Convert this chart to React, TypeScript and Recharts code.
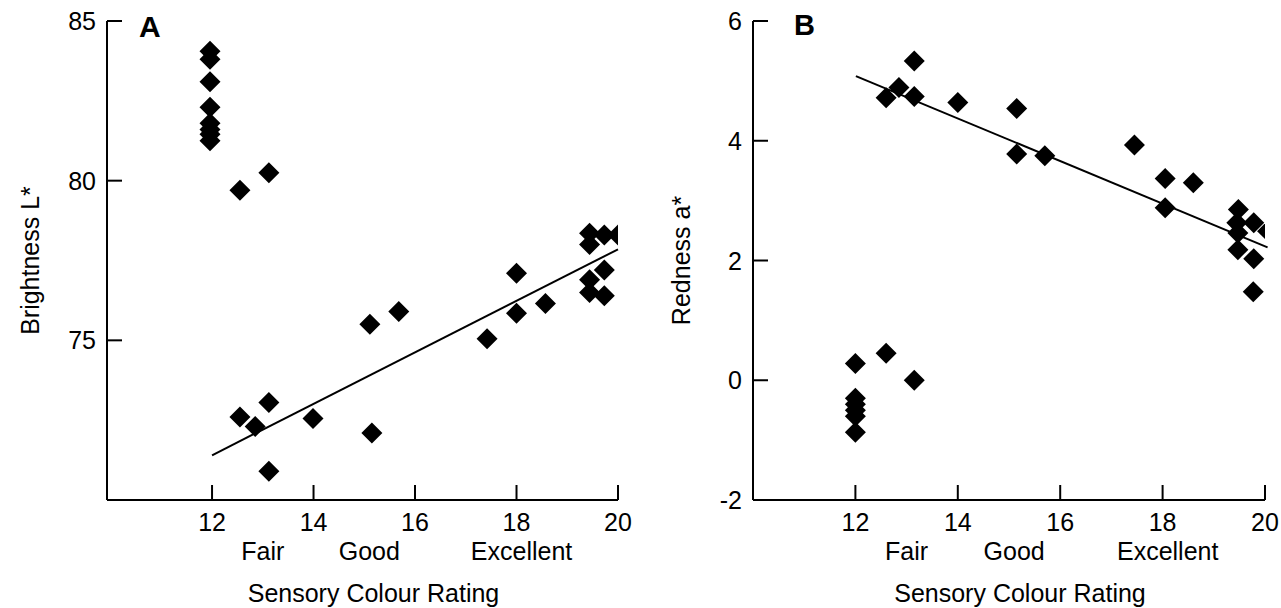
import { ScatterChart, Scatter, XAxis, YAxis, ReferenceLine, Label } from 'recharts';

const FONT = "'Liberation Sans', Arial, Helvetica, sans-serif";
const TICK = 15;
const PLOT_H = 479;

// Panel A: brightness vs sensory rating
const ratingA = [11.96, 11.96, 11.96, 11.96, 11.96, 11.96, 11.96, 11.96, 12.55, 13.12, 12.55, 12.85, 13.12, 13.99, 13.12, 15.11, 15.15, 15.68, 17.42, 18.0, 18.0, 18.57, 19.44, 19.44, 19.73, 20.0, 19.73, 19.44, 19.44, 19.73];
const brightness = [84.05, 83.8, 83.1, 82.3, 81.8, 81.6, 81.45, 81.25, 79.7, 80.25, 72.6, 72.3, 73.05, 72.55, 70.9, 75.5, 72.1, 75.9, 75.05, 77.1, 75.85, 76.15, 78.35, 78.0, 78.3, 78.3, 77.2, 76.9, 76.5, 76.4];
const lineA = [{ x: 12.0, y: 71.4 }, { x: 20, y: 77.85 }];
const xDomainA: [number, number] = [9.93, 20];
const yTicksA = [75, 80, 85];

// Panel B: redness vs sensory rating
const ratingB = [12, 12, 12, 12, 12, 12, 12.6, 13.15, 12.6, 12.85, 13.15, 13.15, 14.0, 15.15, 15.15, 15.7, 17.45, 18.05, 18.05, 18.6, 19.48, 19.45, 19.47, 19.78, 20.05, 19.47, 19.78, 19.77];
const redness = [0.28, -0.3, -0.4, -0.5, -0.6, -0.87, 0.45, 0.0, 4.72, 4.89, 5.33, 4.74, 4.64, 4.54, 3.78, 3.75, 3.93, 3.37, 2.88, 3.3, 2.85, 2.63, 2.46, 2.63, 2.49, 2.18, 2.03, 1.48];
const lineB = [{ x: 12.01, y: 5.08 }, { x: 20.05, y: 2.22 }];
const xDomainB: [number, number] = [10, 20];
const yTicksB = [-2, 0, 2, 4, 6];

const xTicks = [12, 14, 16, 18, 20];
const qualityNames = ['Fair', 'Good', 'Excellent'];
const qualityAt = [13, 15.1, 18.1];

const toPoints = (xs: number[], ys: number[]) => xs.map((x, i) => ({ x, y: ys[i] }));

const textStyle = { fontFamily: FONT, fontSize: 25, fill: '#000' };
const axisStroke = { stroke: '#000', strokeWidth: 2 };

function Diamond(props: any) {
  const { cx, cy } = props;
  if (cx == null || cy == null) return null;
  const r = 10.5;
  return <polygon points={`${cx},${cy - r} ${cx + r},${cy} ${cx},${cy + r} ${cx - r},${cy}`} fill="#000" />;
}

function XTick({ x, y, payload }: any) {
  return (
    <text x={x} y={y + 22} textAnchor="middle" dominantBaseline="central" {...textStyle}>
      {payload.value}
    </text>
  );
}

function YTick({ x, y, payload }: any) {
  return (
    <text x={x - 11} y={y} textAnchor="end" dominantBaseline="central" {...textStyle}>
      {payload.value}
    </text>
  );
}

function QualityTick({ x, y, payload }: any) {
  const i = qualityAt.indexOf(payload.value);
  return (
    <text x={x} y={y + 11} textAnchor="middle" dominantBaseline="central" {...textStyle}>
      {qualityNames[i]}
    </text>
  );
}

interface PanelProps {
  points: { x: number; y: number }[];
  line: { x: number; y: number }[];
  xDomain: [number, number];
  yDomain: [number, number];
  yTicks: number[];
  yTitle: string;
  titleX: number;
  left: number;
  width: number;
  yAxisWidth: number;
  rightMargin: number;
}

function Panel({ points, line, xDomain, yDomain, yTicks, yTitle, titleX, left, width, yAxisWidth, rightMargin }: PanelProps) {
  // inward tick marks drawn as short segments off each axis
  const plotW = width - yAxisWidth - rightMargin;
  const dy = (TICK * (yDomain[1] - yDomain[0])) / PLOT_H;
  const dx = (TICK * (xDomain[1] - xDomain[0])) / plotW;

  return (
    <div style={{ position: 'absolute', left, top: 0 }}>
      <ScatterChart width={width} height={608} margin={{ top: 21, right: rightMargin, bottom: 0, left: 0 }}>
        <XAxis
          dataKey="x"
          type="number"
          domain={xDomain}
          ticks={xTicks}
          interval={0}
          tickSize={0}
          tickMargin={0}
          height={40}
          tick={XTick}
          tickLine={false}
          axisLine={axisStroke}
          allowDataOverflow
        />
        <XAxis
          xAxisId="q"
          dataKey="x"
          type="number"
          domain={xDomain}
          ticks={qualityAt}
          interval={0}
          tickSize={0}
          tickMargin={0}
          height={68}
          tick={QualityTick}
          tickLine={false}
          axisLine={false}
          allowDataOverflow
        >
          <Label
            content={(p: any) => (
              <text x={p.viewBox.x + p.viewBox.width / 2 + 11} y={593} textAnchor="middle" dominantBaseline="central" {...textStyle}>
                Sensory Colour Rating
              </text>
            )}
          />
        </XAxis>
        <YAxis
          dataKey="y"
          type="number"
          domain={yDomain}
          ticks={yTicks}
          interval={0}
          width={yAxisWidth}
          tickSize={0}
          tickMargin={0}
          tick={YTick}
          tickLine={false}
          axisLine={axisStroke}
          allowDataOverflow
        >
          <Label
            content={(p: any) => {
              const cy = p.viewBox.y + p.viewBox.height / 2;
              return (
                <text x={titleX} y={cy} textAnchor="middle" dominantBaseline="central" transform={`rotate(-90 ${titleX} ${cy})`} {...textStyle}>
                  {yTitle}
                </text>
              );
            }}
          />
        </YAxis>
        {xTicks.map((t) => (
          <ReferenceLine
            key={`xt${t}`}
            segment={[{ x: t, y: yDomain[0] }, { x: t, y: yDomain[0] + dy }]}
            stroke="#000"
            strokeWidth={2}
            ifOverflow="visible"
          />
        ))}
        {yTicks.map((t) => (
          <ReferenceLine
            key={`yt${t}`}
            segment={[{ x: xDomain[0], y: t }, { x: xDomain[0] + dx, y: t }]}
            stroke="#000"
            strokeWidth={2}
            ifOverflow="visible"
          />
        ))}
        <ReferenceLine segment={line} stroke="#000" strokeWidth={2} ifOverflow="visible" />
        <Scatter data={points} shape={Diamond} isAnimationActive={false} />
      </ScatterChart>
    </div>
  );
}

export default function App() {
  return (
    <div style={{ position: 'absolute', left: 0, top: 0, width: 1281, height: 608, background: '#fff' }}>
      <Panel
        points={toPoints(ratingA, brightness)}
        line={lineA}
        xDomain={xDomainA}
        yDomain={[70, 85]}
        yTicks={yTicksA}
        yTitle="Brightness L*"
        titleX={30}
        left={0}
        width={640}
        yAxisWidth={107}
        rightMargin={22}
      />
      <Panel
        points={toPoints(ratingB, redness)}
        line={lineB}
        xDomain={xDomainB}
        yDomain={[-2, 6]}
        yTicks={yTicksB}
        yTitle="Redness a*"
        titleX={41}
        left={640}
        width={641}
        yAxisWidth={113}
        rightMargin={16}
      />
      <svg width={1281} height={608} style={{ position: 'absolute', left: 0, top: 0, pointerEvents: 'none' }}>
        <text x={139} y={37} fontFamily={FONT} fontSize={30} fontWeight="bold">A</text>
        <text x={794} y={35} fontFamily={FONT} fontSize={29} fontWeight="bold">B</text>
      </svg>
    </div>
  );
}
